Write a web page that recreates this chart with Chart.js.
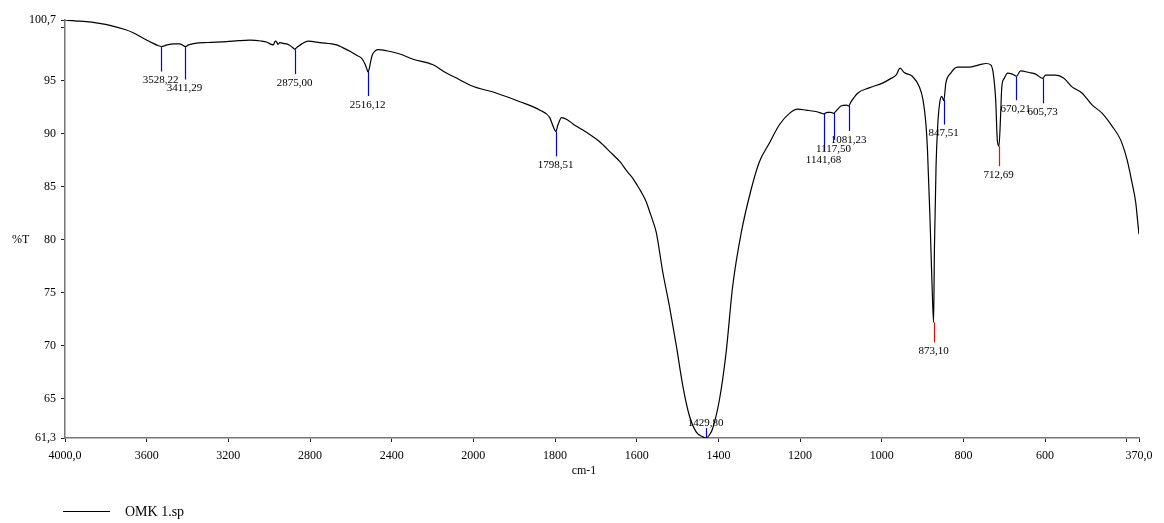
<!DOCTYPE html>
<html>
<head>
<meta charset="utf-8">
<script src="https://cdn.jsdelivr.net/npm/chart.js"></script>
<style>
  body { margin: 0; background: #fff; }
  #wrap { width: 1164px; height: 523px; position: relative; }
</style>
</head>
<body>
<div id="wrap"><canvas id="chart"></canvas></div>
<script>
// spectrum (cm-1, %T), high to low wavenumber
const wavenumbers = [
  4000, 3950, 3894, 3840, 3780, 3706, 3666, 3617, 3568, 3545, 3528, 3500, 3470, 3440, 3425, 3411, 3395, 3364,
  3300, 3209, 3150, 3094, 3040, 3010, 2990, 2980, 2970, 2962, 2957, 2948, 2931, 2902, 2885, 2875, 2862, 2840,
  2809, 2752, 2670, 2640, 2600, 2570, 2548, 2532, 2522, 2516, 2510, 2504, 2495, 2480, 2466, 2425, 2360, 2295,
  2200, 2132, 2070, 2010, 1943, 1886, 1837, 1813, 1805, 1798, 1793, 1784, 1770, 1756, 1735, 1715, 1690, 1666,
  1640, 1625, 1610, 1600, 1589, 1577, 1568, 1560, 1552, 1536, 1520, 1503, 1487, 1471, 1454, 1440, 1430, 1420, 1414,
  1397, 1381, 1365, 1344, 1320, 1300, 1275, 1251, 1226, 1206, 1185, 1165, 1150, 1142, 1133, 1125, 1118, 1110,
  1100, 1086, 1081, 1075, 1059, 1031, 998, 977, 965, 955, 945, 925, 908, 899, 892, 888, 882, 877, 873, 871,
  867, 863, 858, 853, 848, 843, 831, 815, 786, 762, 744, 733, 727, 721, 717, 713, 709, 706, 700, 692, 680, 670,
  660, 639, 623, 606, 599, 574, 554, 534, 509, 485, 460, 436, 415, 399, 387, 378, 374, 370
]
const transmittance = [
  100.7, 100.62, 100.54, 100.4, 100.2, 99.8, 99.5, 98.98, 98.5, 98.3, 98.2, 98.35, 98.45, 98.45, 98.35, 98.2, 98.35, 98.5,
  98.58, 98.66, 98.75, 98.8, 98.72, 98.6, 98.4, 98.35, 98.7, 98.6, 98.4, 98.57, 98.5, 98.35, 98.1, 97.95, 98.15, 98.45,
  98.7, 98.57, 98.35, 98.1, 97.7, 97.35, 97.1, 96.6, 96.1, 95.8, 96.1, 96.7, 97.4, 97.8, 97.9, 97.8, 97.5, 97.0,
  96.5, 95.7, 95.1, 94.5, 93.8, 93.0, 92.2, 91.5, 90.7, 90.2, 90.8, 91.5, 91.3, 90.9, 90.4, 89.9, 89.2, 88.3,
  87.3, 86.5, 85.8, 85.2, 84.5, 83.6, 82.6, 81.7, 80.65, 76.9, 73.75, 70.0, 66.2, 63.4, 61.85, 61.45, 61.3, 61.7, 62.2,
  65.0, 69.4, 75.6, 80.65, 84.7, 87.3, 89.1, 90.8, 91.9, 92.3, 92.2, 92.1, 91.95, 91.85, 92.0, 92.0, 91.9, 92.2,
  92.6, 92.68, 92.6, 93.0, 93.8, 94.3, 94.75, 95.2, 95.5, 96.16, 95.75, 95.4, 94.4, 93.2, 91.0, 88.5, 82.2, 76.0, 72.2, 79.1,
  86.9, 90.7, 92.9, 93.5, 93.1, 94.75, 95.7, 96.25, 96.25, 96.47, 96.6, 96.47, 95.7, 93.2, 89.4, 88.8, 91.6, 94.4, 95.2, 95.7, 95.6, 95.4,
  95.9, 95.75, 95.6, 95.2, 95.5, 95.5, 95.2, 94.4, 93.8, 92.7, 91.9, 90.7, 89.4, 87.5, 85.35, 83.5, 82.0, 80.5
]

// labelled peaks
const peakPositions = [3528.22, 3411.29, 2875.00, 2516.12, 1798.51, 1429.80, 1141.68, 1117.50, 1081.23, 873.10, 847.51, 712.69, 670.21, 605.73]
const peakTransmittance = [98.2, 98.2, 97.95, 95.8, 90.2, 61.3, 91.85, 91.95, 92.6, 72.2, 93.2, 88.8, 95.4, 95.2]
const strongPeaks = [873.10, 712.69]

const xTickValues = [4000, 3600, 3200, 2800, 2400, 2000, 1800, 1600, 1400, 1200, 1000, 800, 600, 400, 370]
const yTickValues = [61.3, 65, 70, 75, 80, 85, 90, 95, 100, 100.7]
const seriesName = 'OMK 1.sp'

// marker line length under each peak (px), negative = drawn upward
const peakDrop = [25, 33, 25, 24, 25, -10, 37, 27, 25, 20, 25, 20, 24, 25]

const fmt = (v, d) => v.toFixed(d).replace('.', ',')

// IR axis: 4000-2000 is drawn at half the scale of 2000-370
const pos = v => v >= 2000 ? (4000 - v) / 2 : 1000 + (2000 - v)

class WavenumberScale extends Chart.LinearScale {
  getPixelForValue(value) {
    const d = (pos(value) - pos(this.max)) / (pos(this.min) - pos(this.max))
    return this.getPixelForDecimal(d)
  }
  getValueForPixel(pixel) {
    const p = pos(this.max) + this.getDecimalForPixel(pixel) * (pos(this.min) - pos(this.max))
    return p <= 1000 ? 4000 - 2 * p : 2000 - (p - 1000)
  }
}
WavenumberScale.id = 'wavenumber'
WavenumberScale.defaults = Chart.LinearScale.defaults
Chart.register(WavenumberScale)

const serif = '"Liberation Serif", "Times New Roman", serif'
Chart.defaults.font.family = serif
Chart.defaults.font.size = 12
Chart.defaults.color = '#000'

const peakMarks = {
  id: 'peakMarks',
  afterDatasetsDraw(chart) {
    const { ctx, scales: { x, y } } = chart
    ctx.save()
    ctx.font = '11px ' + serif
    ctx.textAlign = 'center'
    ctx.lineWidth = 1.2
    peakPositions.forEach((nu, i) => {
      const px = Math.round(x.getPixelForValue(nu)) + 0.5
      const y0 = y.getPixelForValue(peakTransmittance[i])
      const y1 = y0 + peakDrop[i]
      ctx.strokeStyle = strongPeaks.includes(nu) ? '#ff0000' : '#0000ff'
      ctx.beginPath()
      ctx.moveTo(px, y0)
      ctx.lineTo(px, y1)
      ctx.stroke()
      ctx.fillStyle = '#000'
      if (peakDrop[i] < 0) {
        ctx.textBaseline = 'bottom'
        ctx.fillText(fmt(nu, 2), px - 1, y1 + 1)
      } else {
        ctx.textBaseline = 'middle'
        ctx.fillText(fmt(nu, 2), px - 1, y1 + 9)
      }
    })
    ctx.restore()
  },
  afterDraw(chart) {
    const { ctx, scales: { y } } = chart
    ctx.save()
    ctx.fillStyle = '#000'
    ctx.textBaseline = 'middle'
    ctx.font = '12px ' + serif
    ctx.textAlign = 'left'
    ctx.fillText('%T', 12, y.getPixelForValue(80))
    ctx.textAlign = 'center'
    ctx.fillText('cm-1', 584, 471)
    // legend
    ctx.strokeStyle = '#000'
    ctx.lineWidth = 1
    ctx.beginPath()
    ctx.moveTo(63, 511.5)
    ctx.lineTo(110, 511.5)
    ctx.stroke()
    ctx.font = '14px ' + serif
    ctx.textAlign = 'left'
    ctx.fillText(chart.data.datasets[0].label, 125, 512)
    ctx.restore()
  }
}

new Chart(document.getElementById('chart'), {
  type: 'line',
  data: {
    datasets: [{
      label: seriesName,
      data: wavenumbers.map((nu, i) => ({ x: nu, y: transmittance[i] })),
      borderColor: '#000',
      borderWidth: 1.2,
      pointRadius: 0,
      fill: false,
      cubicInterpolationMode: 'monotone'
    }]
  },
  options: {
    responsive: true,
    maintainAspectRatio: false,
    animation: false,
    layout: { padding: { top: 20, right: 25, bottom: 45, left: 0 } },
    plugins: { legend: { display: false }, tooltip: { enabled: false } },
    scales: {
      x: {
        type: 'wavenumber',
        min: 370,
        max: 4000,
        afterBuildTicks: s => { s.ticks = xTickValues.map(v => ({ value: v })) },
        afterFit: s => { s.height = 40 },
        ticks: {
          autoSkip: false,
          maxRotation: 0,
          padding: 7,
          callback: v => v === 400 ? '' : (v === 4000 || v === 370) ? fmt(v, 1) : String(v)
        },
        grid: { drawOnChartArea: false, drawTicks: true, tickLength: 4, color: '#222' },
        border: { color: '#777', width: 1.5 }
      },
      y: {
        min: 61.3,
        max: 100.7,
        afterBuildTicks: s => { s.ticks = yTickValues.map(v => ({ value: v })) },
        afterFit: s => { s.width = 65 },
        ticks: {
          autoSkip: false,
          padding: 5,
          callback: v => v === 100 ? '' : Number.isInteger(v) ? String(v) : fmt(v, 1)
        },
        grid: { drawOnChartArea: false, drawTicks: true, tickLength: 4, color: '#222' },
        border: { color: '#777', width: 1.5 }
      }
    }
  },
  plugins: [peakMarks]
})
</script>
</body>
</html>
